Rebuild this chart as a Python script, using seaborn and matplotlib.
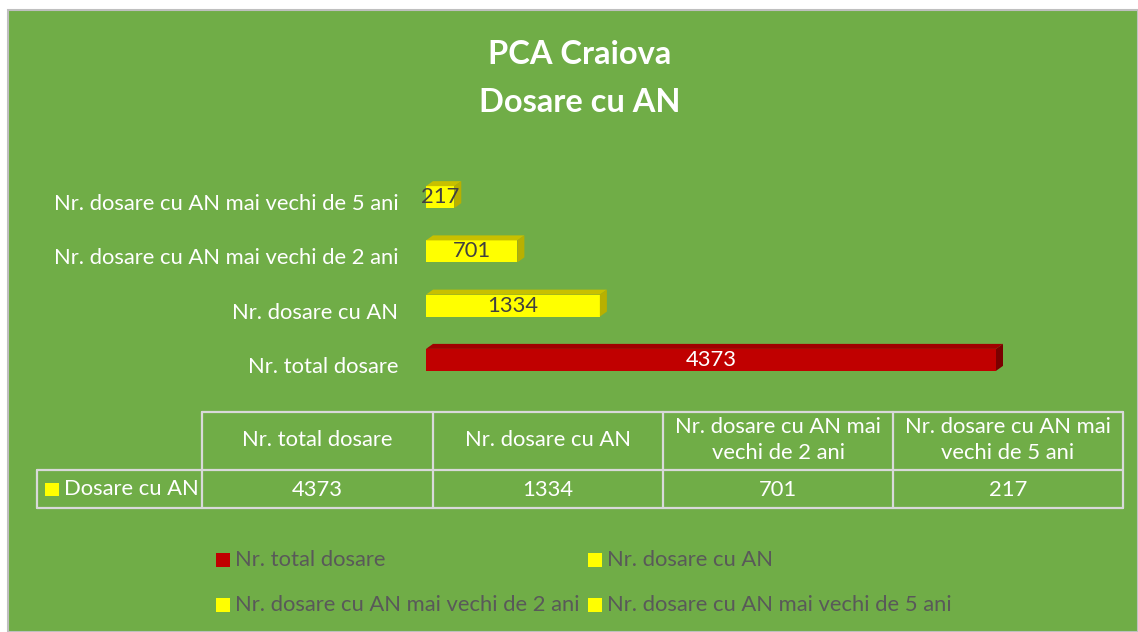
import matplotlib
matplotlib.use("Agg")
import matplotlib.pyplot as plt
import matplotlib.patches as mpatches
import matplotlib.lines as mlines
from matplotlib.transforms import ScaledTranslation
import seaborn as sns
import pandas as pd

# ---- data ----
categories = ["Nr. dosare cu AN mai vechi de 5 ani",
              "Nr. dosare cu AN mai vechi de 2 ani",
              "Nr. dosare cu AN",
              "Nr. total dosare"]
values = [217, 701, 1334, 4373]
bar_colors = ["#FFFF00", "#FFFF00", "#FFFF00", "#C00000"]
top_colors = ["#C8C000", "#C8C000", "#C8C000", "#A00000"]
side_colors = ["#B8B000", "#B8B000", "#B8B000", "#7A0000"]
label_colors = ["#404040", "#404040", "#404040", "white"]

table_headers = ["Nr. total dosare", "Nr. dosare cu AN",
                 "Nr. dosare cu AN mai\nvechi de 2 ani",
                 "Nr. dosare cu AN mai\nvechi de 5 ani"]
table_values = [4373, 1334, 701, 217]
series_name = "Dosare cu AN"
legend_labels = ["Nr. total dosare", "Nr. dosare cu AN",
                 "Nr. dosare cu AN mai vechi de 2 ani",
                 "Nr. dosare cu AN mai vechi de 5 ani"]
legend_colors = ["#C00000", "#FFFF00", "#FFFF00", "#FFFF00"]
title_lines = ["PCA Craiova", "Dosare cu AN"]

GREEN = "#70AD47"
W, H = 1138, 632
FONT = ["Lato", "DejaVu Sans"]
FS = 15.8

sns.set_theme(style="white")
plt.rcParams["font.family"] = FONT

fig = plt.figure(figsize=(W / 100, H / 100), dpi=100, facecolor="white")

def fx(px):
    return px / W

def fy(py):
    return 1 - py / H

# green chart area
bg = mpatches.Rectangle((fx(8), 0), 1 - fx(8), fy(10), transform=fig.transFigure,
                        facecolor=GREEN, edgecolor="#BFBFBF", linewidth=1.5, zorder=0)
fig.add_artist(bg)

# title
fig.text(fx(580), fy(54), title_lines[0], color="white", fontsize=23.5,
         fontweight="bold", ha="center", va="center")
fig.text(fx(580), fy(102), title_lines[1], color="white", fontsize=23.5,
         fontweight="bold", ha="center", va="center")

# ---- bar axes ----
ax_left, ax_w = 426, 600
ax_top, ax_bot = 170, 387
ax = fig.add_axes([fx(ax_left), fy(ax_bot), ax_w / W, (ax_bot - ax_top) / H])
ax.set_facecolor("none")
xmax = 4373 * ax_w / 570
df = pd.DataFrame({"cat": categories, "val": values})
sns.barplot(data=df, y="cat", x="val", hue="cat", palette=bar_colors,
            order=categories, hue_order=categories, orient="h",
            width=0.405, legend=False, ax=ax, saturation=1, linewidth=0)
ax.set_xlim(0, xmax)
ax.set_ylim(3.5, -0.5)
ax.set_xlabel("")
ax.set_ylabel("")
ax.set_xticks([])
for s in ax.spines.values():
    s.set_visible(False)
ax.tick_params(axis="y", length=0, pad=20, labelsize=FS, labelcolor="white")
for lab in ax.get_yticklabels():
    lab.set_transform(lab.get_transform() + ScaledTranslation(0, -5 / 100, fig.dpi_scale_trans))

# 3D faces derived from bar patches
px_x = xmax / ax_w
px_y = 4.0 / (ax_bot - ax_top)
dx, dy = 7 * px_x, 5 * px_y
for i, cont in enumerate(ax.containers):
    for p in cont.patches:
        x0, y0 = p.get_x(), p.get_y()
        w, h = p.get_width(), p.get_height()
        ytop = y0
        top = mpatches.Polygon([(x0, ytop), (x0 + dx, ytop - dy), (x0 + w + dx, ytop - dy), (x0 + w, ytop)],
                               closed=True, facecolor=top_colors[i], edgecolor="none", zorder=p.get_zorder())
        side = mpatches.Polygon([(x0 + w, ytop), (x0 + w + dx, ytop - dy), (x0 + w + dx, ytop + h - dy), (x0 + w, ytop + h)],
                                closed=True, facecolor=side_colors[i], edgecolor="none", zorder=p.get_zorder())
        ax.add_patch(top)
        ax.add_patch(side)
    ax.bar_label(cont, labels=[str(values[i])], label_type="center",
                 color=label_colors[i], fontsize=FS, zorder=5)

# ---- data table ----
line_c = "#D9D9D9"
col_x = [202, 433, 663, 893, 1123]
row_y = [412, 470, 508]
lab_x0 = 37

def hline(x0, x1, y):
    fig.add_artist(mlines.Line2D([fx(x0), fx(x1)], [fy(y), fy(y)], color=line_c, lw=1.6,
                                 transform=fig.transFigure))

def vline(x, y0, y1):
    fig.add_artist(mlines.Line2D([fx(x), fx(x)], [fy(y0), fy(y1)], color=line_c, lw=1.6,
                                 transform=fig.transFigure))

hline(col_x[0], col_x[-1], row_y[0])
hline(lab_x0, col_x[-1], row_y[1])
hline(lab_x0, col_x[-1], row_y[2])
for x in col_x:
    vline(x, row_y[0], row_y[2])
vline(lab_x0, row_y[1], row_y[2])

for i, (hdr, v) in enumerate(zip(table_headers, table_values)):
    cx = (col_x[i] + col_x[i + 1]) / 2
    fig.text(fx(cx), fy((row_y[0] + row_y[1]) / 2 - 1), hdr, color="white", fontsize=FS,
             ha="center", va="center", linespacing=1.4)
    fig.text(fx(cx), fy((row_y[1] + row_y[2]) / 2 + 1), str(v), color="white", fontsize=FS,
             ha="center", va="center")

fig.add_artist(mpatches.Rectangle((fx(45), fy(496)), 14 / W, 13 / H, transform=fig.transFigure,
                                  facecolor="#FFFF00", edgecolor="none"))
fig.text(fx(64), fy(489), series_name, color="white", fontsize=FS, ha="left", va="center")

# ---- legend ----
leg_pos = [(216, 560), (588, 560), (216, 605), (588, 605)]
for (lx, ly), lab, c in zip(leg_pos, legend_labels, legend_colors):
    fig.add_artist(mpatches.Rectangle((fx(lx), fy(ly + 7)), 14 / W, 14 / H, transform=fig.transFigure,
                                      facecolor=c, edgecolor="none"))
    fig.text(fx(lx + 19), fy(ly), lab, color="#595959", fontsize=FS, ha="left", va="center")

fig.savefig("out.png", dpi=100, facecolor="white")
